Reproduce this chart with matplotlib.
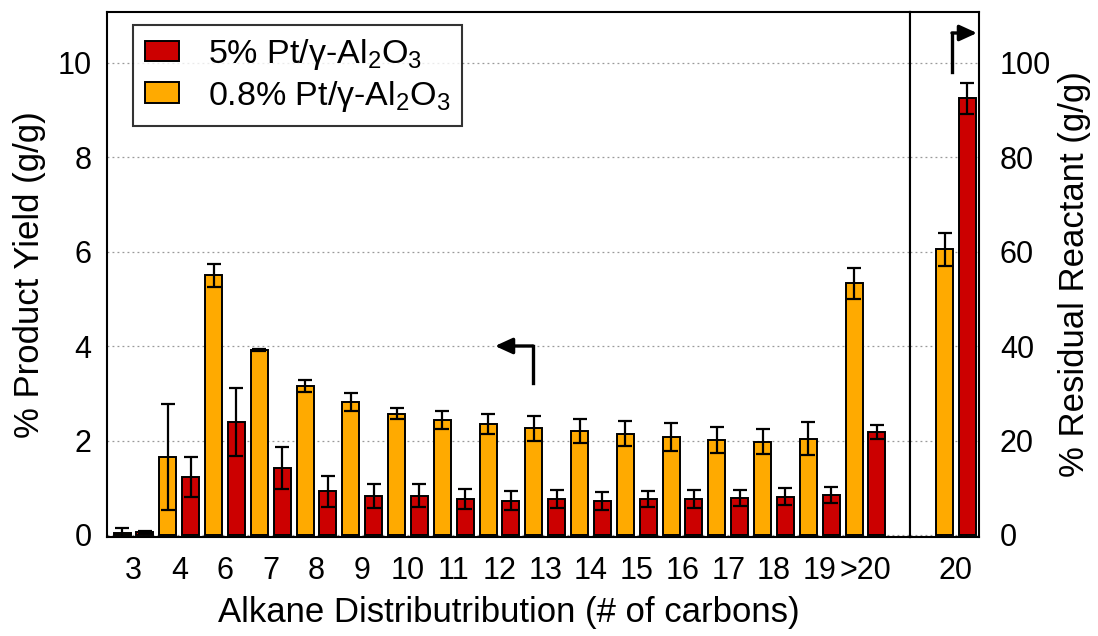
import matplotlib
matplotlib.use("Agg")
import matplotlib.pyplot as plt
import numpy as np

plt.rcParams['font.family'] = ['Liberation Sans', 'DejaVu Sans']
plt.rcParams['mathtext.fontset'] = 'custom'
plt.rcParams['mathtext.rm'] = 'Liberation Sans'
plt.rcParams['mathtext.it'] = 'Liberation Sans'
plt.rcParams['mathtext.bf'] = 'Liberation Sans'

# ---- data ----
carbons = ['3', '4', '6', '7', '8', '9', '10', '11', '12', '13', '14', '15', '16', '17', '18', '19', '>20']
yield_08 = [0.05, 1.65, 5.50, 3.92, 3.16, 2.82, 2.57, 2.44, 2.35, 2.26, 2.20, 2.15, 2.08, 2.01, 1.98, 2.04, 5.33]
err_08 = [0.10, 1.13, 0.25, 0.02, 0.12, 0.19, 0.12, 0.19, 0.22, 0.26, 0.26, 0.27, 0.29, 0.27, 0.26, 0.35, 0.32]
yield_5 = [0.06, 1.23, 2.40, 1.42, 0.93, 0.83, 0.83, 0.76, 0.73, 0.76, 0.73, 0.76, 0.76, 0.78, 0.81, 0.85, 2.18]
err_5 = [0.02, 0.42, 0.72, 0.45, 0.33, 0.25, 0.24, 0.21, 0.21, 0.19, 0.19, 0.17, 0.19, 0.17, 0.18, 0.17, 0.14]

residual_label = ['20']
residual_08 = [60.5]
residual_08_err = [3.5]
residual_5 = [92.5]
residual_5_err = [3.3]

label_5 = '5% Pt/γ-Al$_2$O$_3$'
label_08 = '0.8% Pt/γ-Al$_2$O$_3$'

RED = '#CC0000'
ORANGE = '#FFAA00'

W, H = 1098, 636
fig = plt.figure(figsize=(W / 100, H / 100), dpi=100)

# axes geometry in pixels
ax_left, ax_right, ax_top, ax_bot = 107, 910, 12, 537
r_right = 979
ax = fig.add_axes([ax_left / W, 1 - ax_bot / H, (ax_right - ax_left) / W, (ax_bot - ax_top) / H])
ax2 = fig.add_axes([ax_right / W, 1 - ax_bot / H, (r_right - ax_right) / W, (ax_bot - ax_top) / H])

bw = 0.37
off = 0.25
x = np.arange(len(carbons))
ekw = dict(elinewidth=1.6, capthick=1.6, ecolor='black')
ax.bar(x - off, yield_08, bw, color=ORANGE, edgecolor='black', linewidth=1.4,
       yerr=err_08, capsize=5, error_kw=ekw, zorder=3, label=label_08)
ax.bar(x + off, yield_5, bw, color=RED, edgecolor='black', linewidth=1.4,
       yerr=err_5, capsize=5, error_kw=ekw, zorder=3, label=label_5)

xr = np.arange(len(residual_label))
ax2.bar(xr - off, residual_08, bw, color=ORANGE, edgecolor='black', linewidth=1.4,
        yerr=residual_08_err, capsize=5, error_kw=ekw, zorder=3)
ax2.bar(xr + off, residual_5, bw, color=RED, edgecolor='black', linewidth=1.4,
        yerr=residual_5_err, capsize=5, error_kw=ekw, zorder=3)

px_unit = 45.75
ax.set_xlim(-(133.5 - ax_left) / px_unit, (ax_right - 133.5) / px_unit)
ax2.set_xlim(-(956 - ax_right) / px_unit, (r_right - 956) / px_unit)
ypx = 47.2
ax.set_ylim(-(ax_bot - 535) / ypx, (535 - ax_top) / ypx)
ax2.set_ylim(-(ax_bot - 535) / ypx * 10, (535 - ax_top) / ypx * 10)

ax.set_yticks([0, 2, 4, 6, 8, 10])
ax2.set_yticks([0, 20, 40, 60, 80, 100])
ax.set_xticks(x)
ax.set_xticklabels(carbons)
ax2.set_xticks(xr)
ax2.set_xticklabels(residual_label)

for a in (ax, ax2):
    a.yaxis.grid(True, linestyle=(0, (1.5, 2.5)), color='#999999', linewidth=0.9, zorder=0)
    a.set_axisbelow(True)
    for s in a.spines.values():
        s.set_linewidth(1.5)
        s.set_color('black')

ax.tick_params(axis='both', length=0, labelsize=22, pad=11)
ax.tick_params(axis='x', pad=14)
ax2.tick_params(axis='y', left=False, labelleft=False, right=False, labelright=True,
                length=0, labelsize=22, pad=15)
ax2.tick_params(axis='x', length=0, labelsize=22, pad=14)
ax2.yaxis.set_label_position('right')

ax.set_ylabel('% Product Yield (g/g)', fontsize=25, labelpad=8)
ax.set_xlabel('Alkane Distributribution (# of carbons)', fontsize=25, labelpad=7)
ax2.set_ylabel('% Residual Reactant (g/g)', fontsize=25, labelpad=5)

# legend (red first)
h, l = ax.get_legend_handles_labels()
leg = ax.legend([h[1], h[0]], [l[1], l[0]], loc='upper left',
                bbox_to_anchor=((133 - ax_left) / (ax_right - ax_left), (ax_bot - 25) / (ax_bot - ax_top)),
                borderaxespad=0, fontsize=24.5, frameon=True, fancybox=False,
                edgecolor='black', handlelength=1.0, handleheight=0.55,
                handletextpad=0.85, borderpad=0.35, labelspacing=0.2)
leg.get_frame().set_linewidth(1.5)
leg.set_zorder(5)

akw = dict(arrowstyle='-|>,head_length=0.7,head_width=0.32', lw=2.4, color='black',
           shrinkA=0, shrinkB=0, mutation_scale=15)
# left-pointing arrow in main axes
cx, cy0 = (533 - 133.5) / px_unit, (535 - 383) / ypx
cy1 = (535 - 346) / ypx
tipx = (495 - 133.5) / px_unit
ax.plot([cx, cx], [cy0, cy1], color='black', lw=2.4, solid_capstyle='projecting', zorder=6)
ax.annotate('', xy=(tipx, cy1), xytext=(cx, cy1), arrowprops=akw, zorder=6)
# right-pointing arrow in residual axes
rcx = (952 - 956) / px_unit
ry0, ry1 = (535 - 72) / ypx * 10, (535 - 33) / ypx * 10
rtip = (977 - 956) / px_unit
ax2.plot([rcx, rcx], [ry0, ry1], color='black', lw=2.4, solid_capstyle='projecting', zorder=6)
ax2.annotate('', xy=(rtip, ry1), xytext=(rcx, ry1), arrowprops=akw, zorder=6)

fig.savefig('out.png', dpi=100)
